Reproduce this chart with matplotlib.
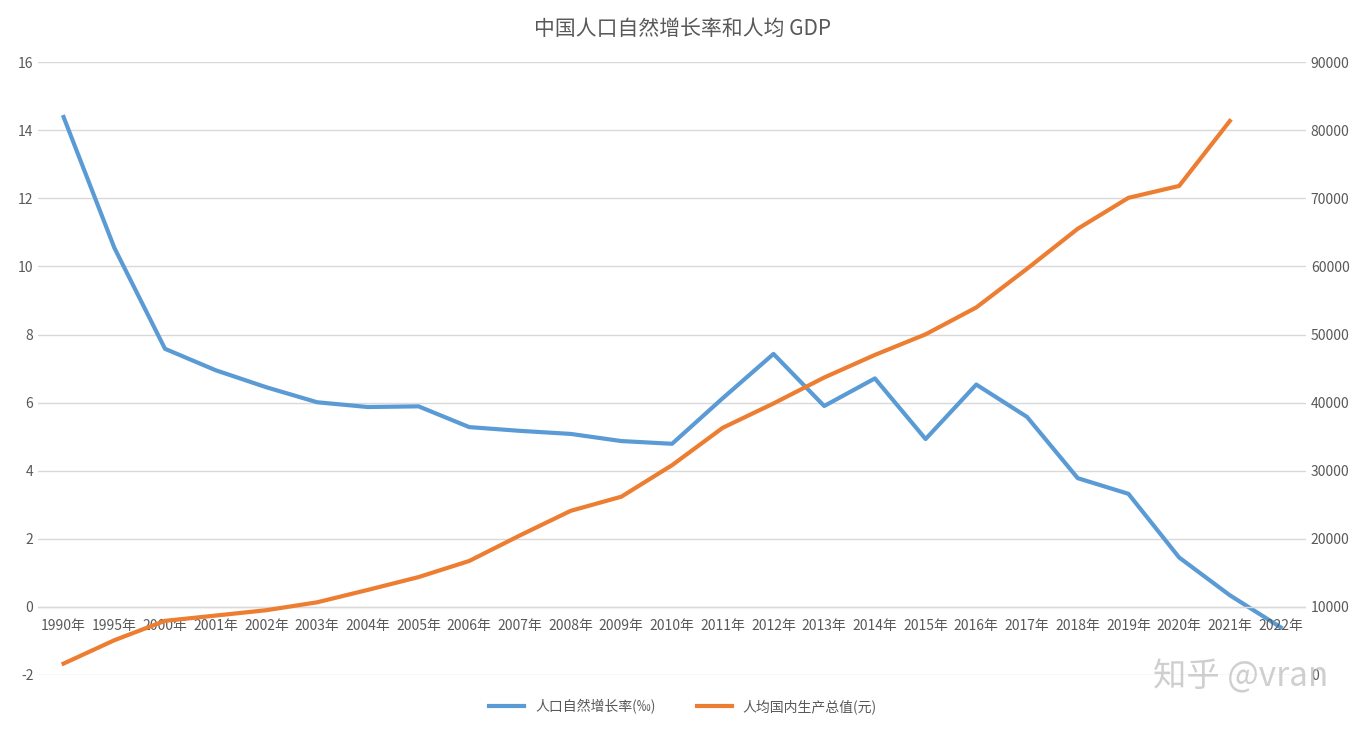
import matplotlib.pyplot as plt
import numpy as np

plt.rcParams['font.family'] = ['Noto Sans CJK SC', 'DejaVu Sans']
plt.rcParams['axes.unicode_minus'] = False

years = ["1990年", "1995年"] + [f"{y}年" for y in range(2000, 2023)]
growth = [14.39, 10.55, 7.58, 6.95, 6.45, 6.01, 5.87, 5.89, 5.28, 5.17, 5.08, 4.87, 4.79,
          6.13, 7.43, 5.90, 6.71, 4.93, 6.53, 5.58, 3.78, 3.32, 1.45, 0.34, -0.60]
gdp = [1663, 5091, 7942, 8717, 9506, 10666, 12487, 14368, 16738, 20494, 24100, 26180, 30808,
       36302, 39874, 43684, 47005, 50028, 53980, 59660, 65534, 70078, 71828, 81370]

fig = plt.figure(figsize=(13.66, 7.32), dpi=100)
ax = fig.add_axes([0.028, 0.078, 0.928, 0.837])
ax2 = ax.twinx()
x = np.arange(len(years))

l1, = ax.plot(x, growth, color="#5b9bd5", lw=3, label="人口自然增长率(‰)")
l2, = ax2.plot(x[:len(gdp)], gdp, color="#ed7d31", lw=3, label="人均国内生产总值(元)")

ax.set_ylim(-2, 16)
ax.set_yticks(range(-2, 17, 2))
ax2.set_ylim(0, 90000)
ax2.set_yticks(range(0, 90001, 10000))
ax.set_xlim(-0.5, len(years) - 0.5)
ax.set_xticks([])
ax.grid(axis="y", color="#d9d9d9", lw=1)
ax.axhline(0, color="#d9d9d9", lw=1)
for a in (ax, ax2):
    for s in a.spines.values():
        s.set_visible(False)
    a.tick_params(length=0, labelsize=10, colors="#595959")
for i, lab in enumerate(years):
    ax.text(i, -0.35, lab, ha="center", va="top", fontsize=10, color="#595959")

fig.text(0.5, 0.96, "中国人口自然增长率和人均 GDP", ha="center", va="center", fontsize=15, color="#595959")
fig.legend(handles=[l1, l2], loc="center", bbox_to_anchor=(0.5, 0.035), ncol=2, frameon=False,
           fontsize=10, labelcolor="#595959", handlelength=2.5, columnspacing=3)
fig.text(0.972, 0.075, "知乎 @vran", ha="right", va="center", fontsize=24, color="#bbbbbb", alpha=0.7)

plt.savefig("out.png", dpi=100)
